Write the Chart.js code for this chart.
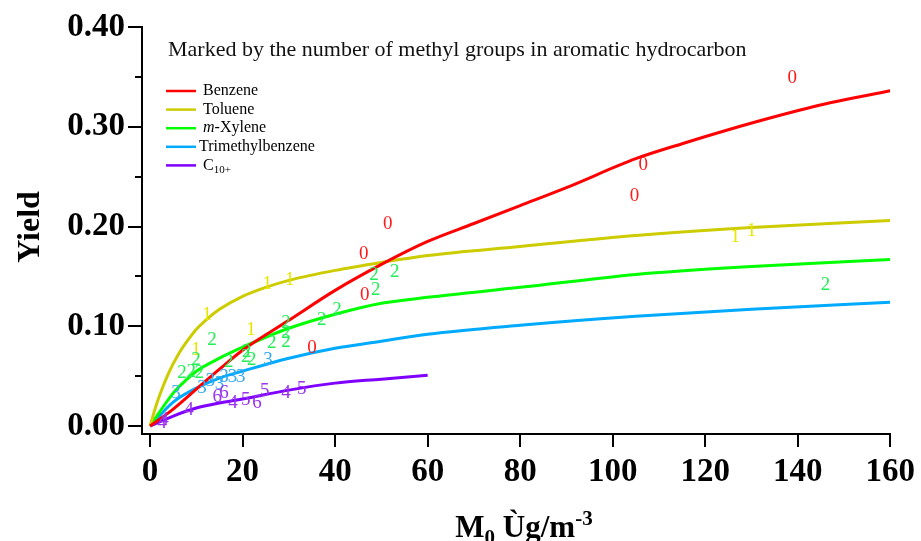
<!DOCTYPE html>
<html><head><meta charset="utf-8">
<script src="https://cdn.jsdelivr.net/npm/chart.js@4"></script>
<style>html,body{margin:0;padding:0;background:#fff;}#wrap{width:921px;height:541px;}</style>
</head><body><div id="wrap"><canvas id="c" width="921" height="541"></canvas></div>
<script>
// ---------- data ----------
const seriesNames = ['Benzene', 'Toluene', 'm-Xylene', 'Trimethylbenzene', 'C10+'];
const lineColors = ['#ff0000', '#cccc00', '#00ff00', '#00aaff', '#7f00ff'];
const markColors = ['#ff1a1a', '#e6e600', '#22ee55', '#33aaee', '#9933ee'];

// fitted curves
const benzeneX = [0, 5, 10, 15, 20, 30, 40, 50, 60, 70, 80, 90, 105, 115, 125, 135, 147, 160];
const benzeneY = [0, 0.017, 0.037, 0.057, 0.076, 0.106, 0.136, 0.162, 0.185, 0.203, 0.221, 0.239, 0.268, 0.283, 0.297, 0.310, 0.324, 0.336];
const tolueneX = [0, 1, 2, 4, 6, 8, 10, 12, 15, 20, 25, 30, 40, 50, 60, 80, 105, 130, 160];
const tolueneY = [0, 0.016, 0.030, 0.053, 0.071, 0.085, 0.097, 0.106, 0.117, 0.130, 0.139, 0.146, 0.156, 0.164, 0.171, 0.180, 0.191, 0.199, 0.206];
const xyleneX = [0, 5, 8, 10, 15, 20, 25, 30, 40, 50, 60, 80, 105, 130, 160];
const xyleneY = [0, 0.033, 0.047, 0.055, 0.068, 0.079, 0.089, 0.098, 0.112, 0.123, 0.129, 0.139, 0.152, 0.160, 0.167];
const tmbX = [0, 5, 10, 15, 20, 30, 40, 50, 60, 80, 105, 130, 160];
const tmbY = [0, 0.024, 0.038, 0.048, 0.055, 0.068, 0.078, 0.085, 0.092, 0.101, 0.110, 0.117, 0.124];
const c10X = [0, 5, 10, 15, 20, 30, 40, 50, 60];
const c10Y = [0, 0.010, 0.018, 0.023, 0.027, 0.036, 0.043, 0.047, 0.051];

// marks (labelled by number of methyl groups)
const benzeneMarkX = [138.8, 106.6, 104.7, 51.4, 46.2, 46.4, 35.0];
const benzeneMarkY = [0.349, 0.262, 0.231, 0.203, 0.172, 0.131, 0.078];
const benzeneMarkText = ['0', '0', '0', '0', '0', '0', '0'];
const tolueneMarkX = [130.0, 126.5, 30.2, 25.3, 12.3, 21.8, 9.9];
const tolueneMarkY = [0.195, 0.189, 0.146, 0.142, 0.111, 0.096, 0.076];
const tolueneMarkText = ['1', '1', '1', '1', '1', '1', '1'];
const xyleneMarkX = [146.0, 52.9, 48.4, 48.8, 40.4, 37.1, 29.4, 29.4, 26.3, 29.4, 13.4, 20.9, 22.0, 9.9, 6.9, 8.9, 10.6, 17.0, 20.7];
const xyleneMarkY = [0.141, 0.154, 0.151, 0.136, 0.116, 0.106, 0.103, 0.093, 0.083, 0.084, 0.086, 0.074, 0.066, 0.066, 0.053, 0.054, 0.053, 0.064, 0.069];
const xyleneMarkText = ['2', '2', '2', '2', '2', '2', '2', '2', '2', '2', '2', '2', '2', '2', '2', '2', '2', '2', '2'];
const tmbMarkX = [25.5, 5.6, 11.2, 13.0, 16.0, 17.8, 19.6, 15.0];
const tmbMarkY = [0.066, 0.033, 0.038, 0.045, 0.049, 0.049, 0.049, 0.042];
const tmbMarkText = ['3', '3', '3', '3', '3', '3', '3', '3'];
const c10MarkX = [2.6, 3.0, 8.4, 14.5, 16.0, 17.9, 20.7, 23.1, 24.8, 29.4, 32.8];
const c10MarkY = [0.003, 0.006, 0.016, 0.029, 0.033, 0.023, 0.026, 0.023, 0.035, 0.033, 0.037];
const c10MarkText = ['4', '4', '4', '6', '6', '4', '5', '6', '5', '4', '5'];

const xTicks = [0, 20, 40, 60, 80, 100, 120, 140, 160];
const yTicks = [0, 0.1, 0.2, 0.3, 0.4];
const yMinorTicks = [0.05, 0.15, 0.25, 0.35];

const noteText = 'Marked by the number of methyl groups in aromatic hydrocarbon';

// ---------- build ----------
const curves = [[benzeneX, benzeneY], [tolueneX, tolueneY], [xyleneX, xyleneY], [tmbX, tmbY], [c10X, c10Y]];
const marks = [[benzeneMarkX, benzeneMarkY, benzeneMarkText], [tolueneMarkX, tolueneMarkY, tolueneMarkText],
  [xyleneMarkX, xyleneMarkY, xyleneMarkText], [tmbMarkX, tmbMarkY, tmbMarkText], [c10MarkX, c10MarkY, c10MarkText]];

const datasets = curves.map((c, i) => ({
  label: seriesNames[i],
  data: c[0].map((x, j) => ({x: x, y: c[1][j]})),
  borderColor: lineColors[i],
  borderWidth: 3,
  pointRadius: 0,
  fill: false,
  cubicInterpolationMode: 'monotone'
}));

const SERIF = '"Liberation Serif", "Times New Roman", serif';

const decorPlugin = {
  id: 'decor',
  afterDatasetsDraw(chart) {
    const ctx = chart.ctx, xs = chart.scales.x, ys = chart.scales.y;
    ctx.save();
    ctx.font = '19px ' + SERIF;
    ctx.textAlign = 'center';
    ctx.textBaseline = 'middle';
    marks.forEach((m, i) => {
      ctx.fillStyle = markColors[i];
      m[0].forEach((xv, j) => {
        ctx.fillText(m[2][j], xs.getPixelForValue(xv), ys.getPixelForValue(m[1][j]));
      });
    });
    ctx.restore();
  },
  afterDraw(chart) {
    const ctx = chart.ctx, ys = chart.scales.y;
    const area = chart.chartArea;
    ctx.save();
    // minor y ticks
    ctx.strokeStyle = '#000';
    ctx.lineWidth = 2;
    yMinorTicks.forEach(v => {
      const py = Math.round(ys.getPixelForValue(v));
      ctx.beginPath();
      ctx.moveTo(area.left, py);
      ctx.lineTo(area.left - 7, py);
      ctx.stroke();
    });
    // note text
    ctx.fillStyle = '#111';
    ctx.font = '22px ' + SERIF;
    ctx.textAlign = 'left';
    ctx.textBaseline = 'middle';
    ctx.fillText(noteText, 168, 50);
    // legend
    const ly0 = 91, ldy = 18.6;
    seriesNames.forEach((name, i) => {
      const y = ly0 + i * ldy;
      ctx.strokeStyle = lineColors[i];
      ctx.lineWidth = 2.5;
      ctx.beginPath();
      ctx.moveTo(166, y);
      ctx.lineTo(196, y);
      ctx.stroke();
      ctx.fillStyle = '#000';
      ctx.textBaseline = 'middle';
      let tx = (name === 'Trimethylbenzene') ? 199 : 203;
      if (name === 'm-Xylene') {
        ctx.font = 'italic 16px ' + SERIF;
        ctx.fillText('m', tx, y);
        const w = ctx.measureText('m').width;
        ctx.font = '16px ' + SERIF;
        ctx.fillText('-Xylene', tx + w, y);
      } else if (name === 'C10+') {
        ctx.font = '16px ' + SERIF;
        ctx.fillText('C', tx, y);
        const w = ctx.measureText('C').width;
        ctx.font = '11px ' + SERIF;
        ctx.fillText('10+', tx + w, y + 5);
      } else {
        ctx.font = '16px ' + SERIF;
        ctx.fillText(name, tx, y);
      }
    });
    // y title
    ctx.save();
    ctx.translate(31, 227);
    ctx.rotate(-Math.PI / 2);
    ctx.font = 'bold 32px ' + SERIF;
    ctx.fillStyle = '#000';
    ctx.textAlign = 'center';
    ctx.textBaseline = 'middle';
    ctx.fillText('Yield', 0, 0);
    ctx.restore();
    // x title: M0 Ùg/m-3
    const big = 'bold 31px ' + SERIF, small = 'bold 21px ' + SERIF;
    const parts = [['M', big, 0], ['0', small, 7], [' Ùg/m', big, 0], ['-3', small, -12]];
    let total = 0;
    parts.forEach(p => { ctx.font = p[1]; total += ctx.measureText(p[0]).width; });
    let px = 524 - total / 2;
    const base = 537;
    ctx.textAlign = 'left';
    ctx.textBaseline = 'alphabetic';
    ctx.fillStyle = '#000';
    parts.forEach(p => {
      ctx.font = p[1];
      ctx.fillText(p[0], px, base + p[2]);
      px += ctx.measureText(p[0]).width;
    });
    ctx.restore();
  }
};

const tickFont = {family: SERIF, weight: 'bold', size: 33};

new Chart(document.getElementById('c').getContext('2d'), {
  type: 'line',
  data: {datasets: datasets},
  options: {
    responsive: false,
    animation: false,
    devicePixelRatio: 1,
    layout: {padding: {top: 27, right: 29, left: 0, bottom: 0}},
    plugins: {legend: {display: false}, tooltip: {enabled: false}},
    scales: {
      x: {
        type: 'linear', min: -1.75, max: 160,
        afterBuildTicks: s => { s.ticks = xTicks.map(v => ({value: v})); },
        afterFit: s => { s.height = 107; },
        grid: {drawOnChartArea: false, drawTicks: true, tickLength: 13, color: '#000', lineWidth: 2},
        border: {display: true, color: '#000', width: 2},
        ticks: {font: tickFont, color: '#000', padding: 6, maxRotation: 0, autoSkip: false, callback: v => String(v)}
      },
      y: {
        type: 'linear', min: -0.008, max: 0.40,
        afterBuildTicks: s => { s.ticks = yTicks.map(v => ({value: v})); },
        afterFit: s => { s.width = 142; },
        grid: {drawOnChartArea: false, drawTicks: true, tickLength: 14, color: '#000', lineWidth: 2},
        border: {display: true, color: '#000', width: 2},
        ticks: {font: tickFont, color: '#000', padding: 3, autoSkip: false, callback: v => Number(v).toFixed(2)}
      }
    }
  },
  plugins: [decorPlugin]
});
</script>
</body></html>
